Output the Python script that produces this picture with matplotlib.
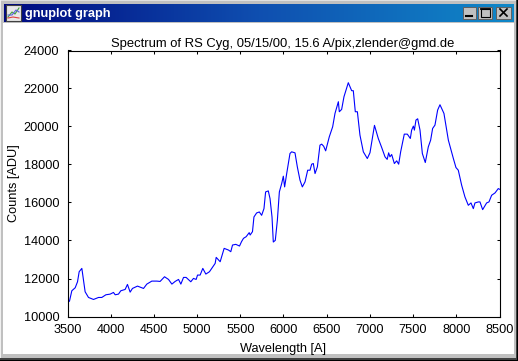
import numpy as np
import matplotlib
matplotlib.use('Agg')
import matplotlib.pyplot as plt
from matplotlib.patches import Rectangle

# Spectrum values
wavelength = [3500, 3523, 3550, 3589, 3616, 3635, 3666, 3685, 3704, 3743, 3801, 3859, 3897, 3944, 3994,
              4032, 4052, 4090, 4117, 4167, 4194, 4225, 4252, 4310, 4380, 4418, 4476, 4534, 4572, 4623,
              4669, 4708, 4746, 4785, 4812, 4843, 4873, 4927, 4958, 4989, 5005, 5035, 5066, 5101, 5143,
              5209, 5221, 5267, 5313, 5363, 5390, 5410, 5448, 5491, 5514, 5537, 5568, 5603, 5614, 5641,
              5658, 5689, 5720, 5747, 5774, 5793, 5824, 5844, 5867, 5882, 5905, 5929, 5952, 5979, 5998,
              6013, 6037, 6075, 6094, 6133, 6160, 6191, 6218, 6249, 6280, 6307, 6326, 6345, 6365, 6392,
              6422, 6442, 6465, 6488, 6530, 6569, 6596, 6635, 6646, 6673, 6700, 6750, 6789, 6808, 6831,
              6855, 6885, 6924, 6970, 7001, 7032, 7053, 7097, 7136, 7175, 7200, 7217, 7232, 7252, 7283,
              7310, 7333, 7356, 7398, 7433, 7468, 7483, 7503, 7515, 7533, 7553, 7580, 7607, 7641, 7676,
              7703, 7726, 7753, 7784, 7811, 7857, 7908, 7966, 7996, 8023, 8062, 8100, 8139, 8170, 8197,
              8216, 8255, 8274, 8305, 8351, 8378, 8409, 8448, 8486, 8500]
counts = [10738, 10809, 11354, 11512, 11828, 12356, 12532, 11916, 11301, 11002, 10897, 11002, 11002, 11143, 11178,
          11266, 11143, 11178, 11354, 11424, 11688, 11283, 11477, 11600, 11477, 11705, 11863, 11863, 11846, 12092,
          11951, 11705, 11846, 11951, 11705, 12057, 12057, 11828, 12004, 11951, 12180, 12180, 12532, 12233, 12356,
          12795, 13112, 12883, 13586, 13498, 13411, 13762, 13797, 13709, 13938, 14114, 14201, 14413, 14289, 14465,
          15239, 15450, 15502, 15326, 15678, 16557, 16610, 16205, 15239, 13920, 14008, 15063, 16557, 16997, 17384,
          16821, 17524, 18579, 18667, 18614, 17876, 17173, 16821, 17085, 17700, 17700, 18016, 18052, 17524, 17876,
          19018, 19071, 18960, 18720, 19458, 19985, 20689, 21304, 20777, 20900, 21568, 22306, 21884, 21884, 20777,
          20777, 19546, 18667, 18315, 18620, 19458, 20060, 19370, 18900, 18403, 18270, 18614, 18403, 18526, 18051,
          18192, 18016, 18667, 19598, 19598, 19370, 19809, 20020, 19809, 20337, 20407, 19809, 18579, 18104, 18930,
          19282, 19897, 20073, 20864, 21145, 20688, 19282, 18315, 17840, 17700, 16909, 16293, 15854, 15977, 15678,
          15977, 16030, 16030, 15625, 15977, 16030, 16381, 16504, 16733, 16698]
x_ticks = [3500, 4000, 4500, 5000, 5500, 6000, 6500, 7000, 7500, 8000, 8500]
y_ticks = [10000, 12000, 14000, 16000, 18000, 20000, 22000, 24000]

W, H = 518, 361
plt.rcParams['font.family'] = ['Liberation Sans', 'DejaVu Sans']
fig = plt.figure(figsize=(W / 100, H / 100), dpi=100, facecolor='#c0c0c0')

# window frame, in pixels
chrome = fig.add_axes([0, 0, 1, 1], zorder=0)
chrome.set_xlim(0, W)
chrome.set_ylim(H, 0)
chrome.axis('off')


def box(x, y, w, h, color):
    chrome.add_patch(Rectangle((x, y), w, h, facecolor=color, edgecolor='none'))


box(0, 0, W, H, '#c0c0c0')
box(0, 0, W, 1, '#e0e0e0')
box(0, 0, 1, H, '#f0f0f0')
box(0, H - 3, W, 3, '#404040')
box(W - 2, 0, 2, H, '#404040')
box(0, H - 1, W, 1, '#000000')
box(W - 1, 0, 1, H, '#000000')
box(3, 23, 511, 331, '#ffffff')

# title bar gradient
grad = np.linspace(0, 1, 256).reshape(1, -1)
cmap = matplotlib.colors.LinearSegmentedColormap.from_list('bar', ['#000a80', '#0f4fb0', '#1088c8'])
chrome.imshow(grad, extent=(4, 514, 22, 4), aspect='auto', cmap=cmap, zorder=1)
chrome.set_xlim(0, W)
chrome.set_ylim(H, 0)
chrome.text(25, 13.5, 'gnuplot graph', color='white', fontsize=9.2, fontweight='bold',
            va='center', ha='left', zorder=3)

# title bar icon
chrome.add_patch(Rectangle((6, 5), 15, 16, facecolor='#e8e8e8', edgecolor='#404040', lw=0.8, zorder=2))
chrome.plot([8, 12, 15, 19], [17, 12, 14, 8], color='#40a040', lw=0.8, zorder=3)
chrome.plot([8, 12, 16, 19], [15, 15, 10, 12], color='#6060e0', lw=0.8, zorder=3)
chrome.plot([8, 13, 19], [18, 17, 18], color='#e04040', lw=0.8, zorder=3)

# title bar buttons
for bx, bw in [(463, 13), (478, 14), (496, 15)]:
    chrome.add_patch(Rectangle((bx, 6.5), bw, 12, facecolor='#c0c0c0', edgecolor='#606060', lw=0.7, zorder=2))
chrome.plot([466, 472], [16, 16], color='black', lw=1.5, zorder=3)
chrome.add_patch(Rectangle((480.5, 8.5), 9, 8, facecolor='none', edgecolor='black', lw=0.8, zorder=3))
chrome.plot([480.5, 489.5], [9, 9], color='black', lw=1.3, zorder=3)
chrome.plot([500, 507], [9, 16], color='black', lw=1.2, zorder=3)
chrome.plot([500, 507], [16, 9], color='black', lw=1.2, zorder=3)

# plot area
left, right, top, bottom = 67.5, 499.5, 50.5, 316.5
ax = fig.add_axes([left / W, 1 - bottom / H, (right - left) / W, (bottom - top) / H], zorder=2)
ax.set_facecolor('none')
ax.plot(wavelength, counts, color='#0000ff', lw=0.8)
ax.set_xlim(3500, 8500)
ax.set_ylim(10000, 24000)
ax.set_xticks(x_ticks)
ax.set_yticks(y_ticks)
ax.tick_params(direction='in', top=True, right=True, length=2.2, width=0.75, labelsize=9.2)
ax.tick_params(axis='x', pad=5.5)
ax.tick_params(axis='y', pad=6)
for s in ax.spines.values():
    s.set_linewidth(0.8)

fig.text(283 / W, 1 - 43.5 / H, 'Spectrum of RS Cyg, 05/15/00, 15.6 A/pix,zlender@gmd.de',
         ha='center', va='center', fontsize=9.4)
fig.text(283 / W, 1 - 349 / H, 'Wavelength [A]', ha='center', va='center', fontsize=9.2)
fig.text(14 / W, 1 - 183 / H, 'Counts [ADU]', ha='center', va='center', rotation=90, fontsize=9.2)

plt.savefig('out.png', dpi=100, facecolor=fig.get_facecolor())
